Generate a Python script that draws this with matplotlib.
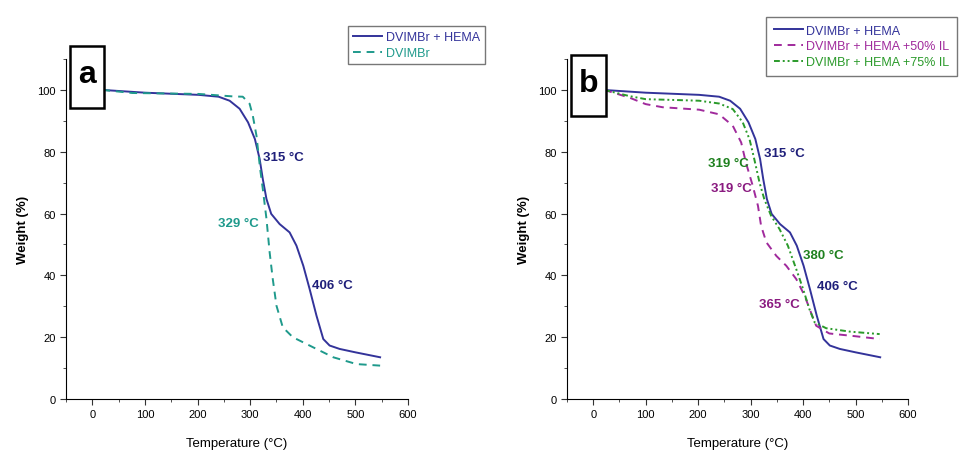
import matplotlib.pyplot as plt
from matplotlib.patches import Rectangle
from matplotlib.ticker import MultipleLocator

plt.rcParams['font.family'] = ['Liberation Sans', 'DejaVu Sans']

# TGA curves
t_hema = [19, 100, 202, 240, 261, 280, 296, 309, 318, 324, 331, 340, 356, 375, 388,
          401, 413, 426, 439, 451, 470, 500, 547]
w_hema = [100, 99.1, 98.4, 97.8, 96.5, 93.9, 89.5, 84.1, 77.7, 71.2, 64.7, 59.9, 56.6,
          53.9, 49.6, 43.1, 35.6, 27, 19.4, 17.3, 16.2, 15.1, 13.5]

t_dvimbr = [19, 76, 202, 267, 286, 299, 305, 312, 319, 324, 331, 337, 343, 350, 362,
            381, 420, 458, 502, 547]
w_dvimbr = [100, 99, 98.7, 97.9, 97.8, 95.5, 91.7, 85.2, 74.4, 68, 58.3, 47.5, 38.8,
            30.2, 23.2, 20, 16.7, 13.5, 11.3, 10.8]

t_il50 = [21, 69, 100, 132, 202, 240, 266, 282, 291, 304, 314, 320, 330, 349, 368,
          387, 403, 415, 425, 450, 500, 546]
w_il50 = [100, 97.5, 95.4, 94.4, 93.6, 92.1, 88.4, 83, 76.5, 69, 62.5, 56, 50.7, 46.3,
          43.1, 38.8, 33.4, 28, 23.7, 21.2, 20.3, 19.4]

t_il75 = [21, 69, 100, 164, 202, 240, 266, 285, 298, 307, 317, 326, 339, 355, 371,
          387, 400, 412, 422, 444, 489, 546]
w_il75 = [100, 98, 97, 96.7, 96.5, 95.6, 93.8, 89.5, 84, 77.6, 70, 64.7, 59.3, 55,
          49.6, 42, 35.6, 29.1, 24.8, 22.9, 21.8, 21]

navy = '#33339a'
navy_txt = '#1f1f7a'
teal = '#1f9a8c'
purple = '#a02a9c'
purple_txt = '#8a1a80'
green = '#2a9a2a'
green_txt = '#1e801e'

fig = plt.figure(figsize=(9.61, 4.52), dpi=100)
W, H = 961, 452


def make_axes(left, right):
    ax = fig.add_axes([left / W, 1 - 400 / H, (right - left) / W, 340 / H])
    ax.set_xlim(-50, 600)
    ax.set_ylim(0, 110)
    ax.spines['top'].set_visible(False)
    ax.spines['right'].set_visible(False)
    ax.xaxis.set_major_locator(MultipleLocator(100))
    ax.xaxis.set_minor_locator(MultipleLocator(50))
    ax.yaxis.set_minor_locator(MultipleLocator(10))
    ax.set_yticks([0, 20, 40, 60, 80, 100])
    ax.tick_params(which='major', direction='out', length=4, labelsize=8, color='#333333')
    ax.tick_params(which='minor', direction='out', length=2.5, color='#333333')
    ax.set_xlabel('Temperature (°C)', fontsize=9.5, labelpad=13)
    ax.set_ylabel('Weight (%)', fontsize=9.5, fontweight='bold', labelpad=6)
    return ax


def letter_box(x0, x1, y0, y1, s):
    fig.patches.append(Rectangle((x0 / W, 1 - y1 / H), (x1 - x0) / W, (y1 - y0) / H,
                                 transform=fig.transFigure, facecolor='white',
                                 edgecolor='black', lw=1.8, zorder=5))
    fig.text((x0 + x1) / 2 / W, 1 - (y0 + y1 - 6) / 2 / H, s, fontsize=23, fontweight='bold',
             ha='center', va='center', zorder=6)


line_kw = dict(lw=1.4, solid_joinstyle='round', dash_joinstyle='round')
leg_kw = dict(loc='upper left', fontsize=9, frameon=True, fancybox=False,
              edgecolor='#555555', labelcolor='linecolor', handlelength=2.3,
              labelspacing=0.3, handletextpad=0.3)

# panel a
ax1 = make_axes(66, 408)
ax1.plot(t_hema, w_hema, color=navy, label='DVIMBr + HEMA', **line_kw)
ax1.plot(t_dvimbr, w_dvimbr, color=teal, ls=(0, (4, 3)), label='DVIMBr', **line_kw)
ax1.text(324, 78.4, '315 °C', color=navy_txt, fontsize=9.5, fontweight='bold', va='center')
ax1.text(316, 57, '329 °C', color=teal, fontsize=9.5, fontweight='bold', va='center', ha='right')
ax1.text(418, 36.9, '406 °C', color=navy_txt, fontsize=9.5, fontweight='bold', va='center')
fig.legend(handles=ax1.get_lines(), bbox_to_anchor=(342 / W, 1 - 21 / H),
           borderpad=0.4, **leg_kw)
letter_box(70, 104, 47, 109, 'a')

# panel b
ax2 = make_axes(567, 908)
ax2.plot(t_hema, w_hema, color=navy, label='DVIMBr + HEMA', **line_kw)
ax2.plot(t_il50, w_il50, color=purple, ls=(0, (4, 3)), label='DVIMBr + HEMA +50% IL', **line_kw)
ax2.plot(t_il75, w_il75, color=green, ls=(0, (3, 1.5, 1, 1.5, 1, 1.5)),
         label='DVIMBr + HEMA +75% IL', **line_kw)
ax2.text(325, 79.7, '315 °C', color=navy_txt, fontsize=9.5, fontweight='bold', va='center')
ax2.text(296, 76.2, '319 °C', color=green_txt, fontsize=9.5, fontweight='bold', va='center', ha='right')
ax2.text(303, 68.4, '319 °C', color=purple_txt, fontsize=9.5, fontweight='bold', va='center', ha='right')
ax2.text(400, 46.7, '380 °C', color=green_txt, fontsize=9.5, fontweight='bold', va='center')
ax2.text(426, 36.4, '406 °C', color=navy_txt, fontsize=9.5, fontweight='bold', va='center')
ax2.text(394, 30.7, '365 °C', color=purple_txt, fontsize=9.5, fontweight='bold', va='center', ha='right')
fig.legend(handles=ax2.get_lines(), bbox_to_anchor=(760 / W, 1 - 12 / H),
           borderpad=0.6, **leg_kw)
letter_box(571, 606, 56, 117, 'b')

fig.savefig('out.png', dpi=100)
